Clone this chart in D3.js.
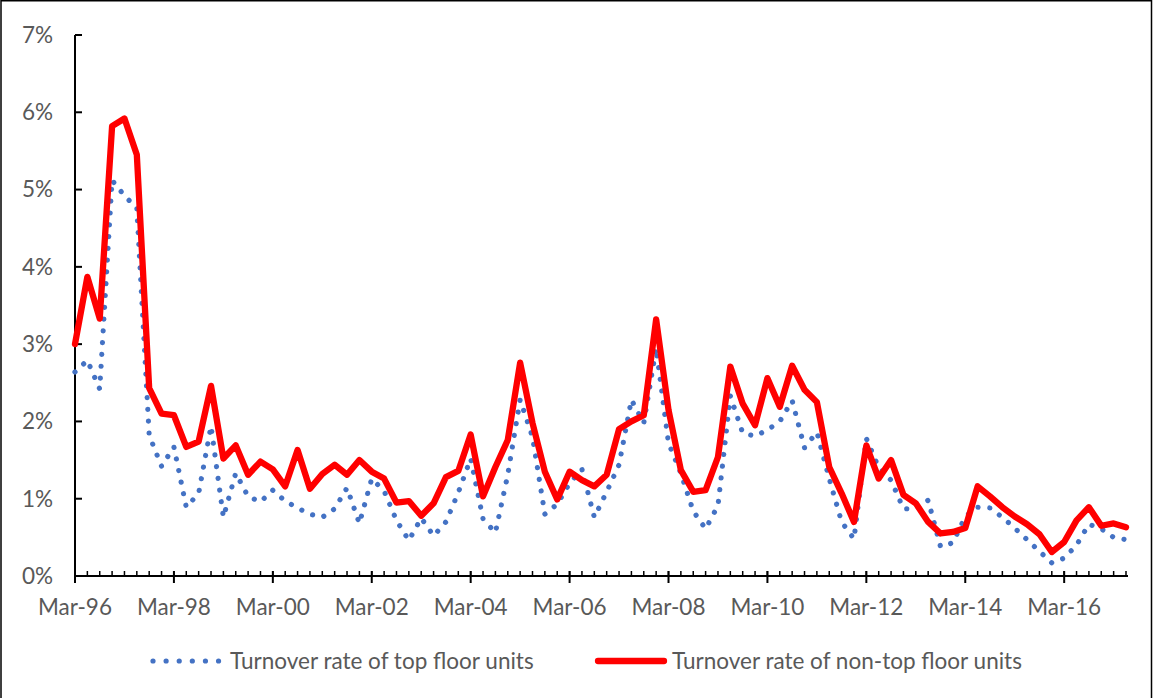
<!DOCTYPE html>
<html>
<head>
<meta charset="utf-8">
<script src="https://cdn.jsdelivr.net/npm/d3@7/dist/d3.min.js"></script>
<style>
  html, body { margin: 0; padding: 0; background: #fff; }
  svg { display: block; }
  text { font-family: Lato, "Open Sans", sans-serif; fill: #595959; }
</style>
</head>
<body>
<svg id="chart" width="1153" height="698"></svg>
<script>
// ---- data ----
const categories = [
  "Mar-96","Jun-96","Sep-96","Dec-96","Mar-97","Jun-97","Sep-97","Dec-97",
  "Mar-98","Jun-98","Sep-98","Dec-98","Mar-99","Jun-99","Sep-99","Dec-99",
  "Mar-00","Jun-00","Sep-00","Dec-00","Mar-01","Jun-01","Sep-01","Dec-01",
  "Mar-02","Jun-02","Sep-02","Dec-02","Mar-03","Jun-03","Sep-03","Dec-03",
  "Mar-04","Jun-04","Sep-04","Dec-04","Mar-05","Jun-05","Sep-05","Dec-05",
  "Mar-06","Jun-06","Sep-06","Dec-06","Mar-07","Jun-07","Sep-07","Dec-07",
  "Mar-08","Jun-08","Sep-08","Dec-08","Mar-09","Jun-09","Sep-09","Dec-09",
  "Mar-10","Jun-10","Sep-10","Dec-10","Mar-11","Jun-11","Sep-11","Dec-11",
  "Mar-12","Jun-12","Sep-12","Dec-12","Mar-13","Jun-13","Sep-13","Dec-13",
  "Mar-14","Jun-14","Sep-14","Dec-14","Mar-15","Jun-15","Sep-15","Dec-15",
  "Mar-16","Jun-16","Sep-16","Dec-16","Mar-17","Jun-17"
];
// turnover rate, top floor units (%)
const topFloor = [
  2.64, 2.79, 2.42, 5.12, 4.92, 4.76, 1.82, 1.42,
  1.67, 0.89, 1.07, 1.94, 0.76, 1.33, 1.03, 0.96,
  1.11, 0.97, 0.88, 0.80, 0.76, 0.87, 1.14, 0.68,
  1.26, 1.10, 0.72, 0.46, 0.75, 0.52, 0.70, 1.08,
  1.52, 0.74, 0.56, 1.31, 2.28, 1.80, 0.80, 0.93,
  1.20, 1.38, 0.76, 1.09, 1.44, 2.28, 1.98, 2.95,
  1.72, 1.33, 0.84, 0.61, 0.91, 2.33, 1.85, 1.81,
  1.89, 2.00, 2.27, 1.66, 1.86, 1.26, 0.70, 0.48,
  1.78, 1.40, 1.24, 0.87, 0.87, 0.98, 0.38, 0.43,
  0.77, 0.89, 0.88, 0.76, 0.62, 0.47, 0.32, 0.17,
  0.23, 0.40, 0.67, 0.61, 0.50, 0.47
];
// turnover rate, non-top floor units (%)
const nonTopFloor = [
  3.00, 3.87, 3.33, 5.82, 5.92, 5.45, 2.43, 2.10,
  2.08, 1.67, 1.74, 2.46, 1.52, 1.69, 1.31, 1.48,
  1.38, 1.16, 1.63, 1.13, 1.32, 1.44, 1.31, 1.50,
  1.35, 1.26, 0.95, 0.97, 0.78, 0.94, 1.28, 1.36,
  1.83, 1.03, 1.41, 1.76, 2.76, 1.98, 1.35, 0.99,
  1.35, 1.24, 1.16, 1.31, 1.90, 2.00, 2.08, 3.32,
  2.15, 1.37, 1.09, 1.11, 1.54, 2.71, 2.23, 1.95,
  2.56, 2.19, 2.72, 2.41, 2.25, 1.41, 1.07, 0.70,
  1.69, 1.26, 1.50, 1.05, 0.94, 0.70, 0.55, 0.57,
  0.62, 1.16, 1.03, 0.89, 0.77, 0.67, 0.54, 0.31,
  0.44, 0.72, 0.89, 0.65, 0.68, 0.63
];
const yTicks = [0, 1, 2, 3, 4, 5, 6, 7];
const xTickLabels = ["Mar-96","Mar-98","Mar-00","Mar-02","Mar-04","Mar-06","Mar-08","Mar-10","Mar-12","Mar-14","Mar-16"];
const seriesNames = ["Turnover rate of top floor units", "Turnover rate of non-top floor units"];

// ---- layout ----
const svg = d3.select("#chart");
const plotLeft = 75, plotRight = 1126, plotTop = 35, plotBottom = 576;

// outer frame
svg.append("rect").attr("x", 1).attr("y", 0.75).attr("width", 1150.5).attr("height", 710)
  .attr("fill", "none").attr("stroke", "#000").attr("stroke-width", 1.5);

const x = d3.scalePoint().domain(categories).range([plotLeft, plotRight]).padding(0);
const y = d3.scaleLinear().domain([0, 7]).range([plotBottom, plotTop]);

// font size fitted so legend text matches reference width
const probe = svg.append("text").style("font-size", "20px").text(seriesNames[0]);
const w20 = probe.node().getComputedTextLength();
probe.remove();
const fs = 20 * 304 / w20;

// y axis
const yAxis = svg.append("g");
yAxis.append("line").attr("x1", plotLeft).attr("x2", plotLeft).attr("y1", plotTop).attr("y2", plotBottom)
  .attr("stroke", "#000").attr("stroke-width", 2);
yAxis.selectAll("line.tk").data(yTicks).join("line").attr("class", "tk")
  .attr("x1", plotLeft).attr("x2", plotLeft + 7)
  .attr("y1", d => y(d)).attr("y2", d => y(d))
  .attr("stroke", "#000").attr("stroke-width", 2);
yAxis.selectAll("text").data(yTicks).join("text")
  .attr("x", 53).attr("y", d => y(d)).attr("dy", "0.35em")
  .attr("text-anchor", "end").style("font-size", fs + "px")
  .text(d => d + "%");

// x axis
const xAxis = svg.append("g");
xAxis.selectAll("line.minor").data(categories).join("line").attr("class", "minor")
  .attr("x1", d => x(d)).attr("x2", d => x(d))
  .attr("y1", plotBottom - 5).attr("y2", plotBottom)
  .attr("stroke", "#000").attr("stroke-width", 1.5);
xAxis.selectAll("line.major").data(xTickLabels).join("line").attr("class", "major")
  .attr("x1", d => x(d)).attr("x2", d => x(d))
  .attr("y1", plotBottom - 5).attr("y2", plotBottom + 7)
  .attr("stroke", "#000").attr("stroke-width", 2);
xAxis.append("line").attr("x1", plotLeft - 1).attr("x2", plotRight + 2).attr("y1", plotBottom).attr("y2", plotBottom)
  .attr("stroke", "#000").attr("stroke-width", 2);
xAxis.selectAll("text").data(xTickLabels).join("text")
  .attr("x", d => x(d)).attr("y", 607).attr("dy", "0.35em")
  .attr("text-anchor", "middle").style("font-size", fs + "px")
  .text(d => d);

// lines
const line = d3.line().x((d, i) => x(categories[i])).y(d => y(d));
svg.append("path").datum(topFloor).attr("d", line)
  .attr("fill", "none").attr("stroke", "#4472C4").attr("stroke-width", 5.2)
  .attr("stroke-linecap", "round").attr("stroke-linejoin", "round")
  .attr("stroke-dasharray", "0.01 11.8");
svg.append("path").datum(nonTopFloor).attr("d", line)
  .attr("fill", "none").attr("stroke", "#FF0000").attr("stroke-width", 6.3)
  .attr("stroke-linecap", "round").attr("stroke-linejoin", "round");

// legend
const ly = 661;
const lg = svg.append("g");
lg.append("line").attr("x1", 153).attr("x2", 219).attr("y1", ly).attr("y2", ly)
  .attr("stroke", "#4472C4").attr("stroke-width", 5.2)
  .attr("stroke-linecap", "round").attr("stroke-dasharray", "0.01 13.1");
lg.append("text").attr("x", 230).attr("y", ly).attr("dy", "0.35em")
  .style("font-size", fs + "px").text(seriesNames[0]);
lg.append("line").attr("x1", 598).attr("x2", 664).attr("y1", ly).attr("y2", ly)
  .attr("stroke", "#FF0000").attr("stroke-width", 6.3).attr("stroke-linecap", "round");
lg.append("text").attr("x", 672).attr("y", ly).attr("dy", "0.35em")
  .style("font-size", fs + "px").text(seriesNames[1]);
</script>
</body>
</html>
